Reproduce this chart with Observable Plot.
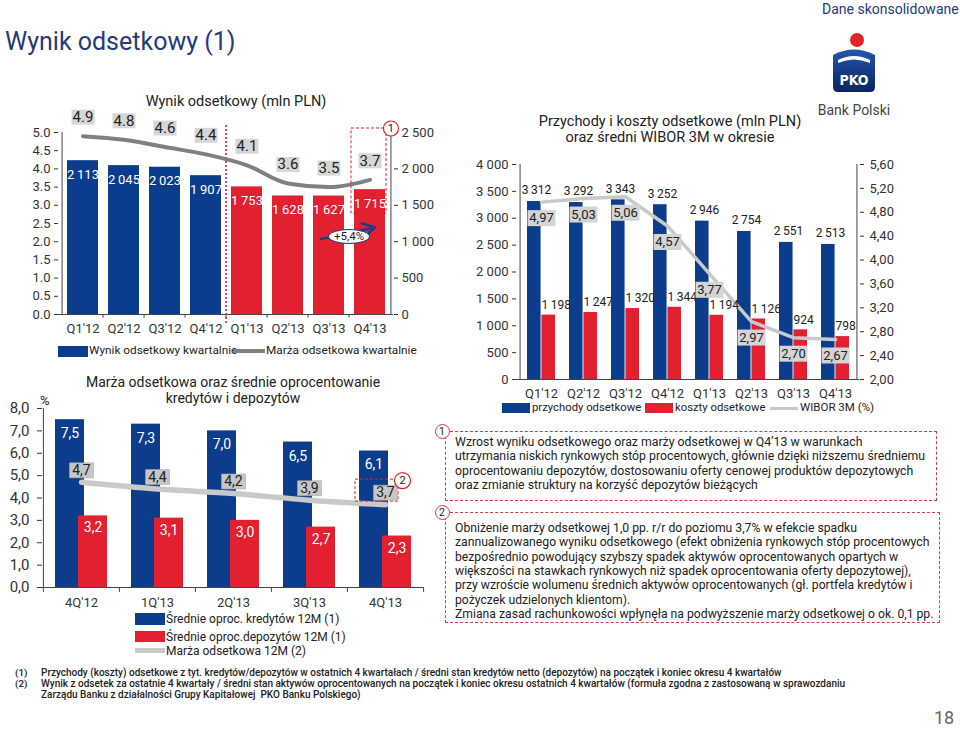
<!DOCTYPE html>
<html><head><meta charset="utf-8">
<script src="https://cdn.jsdelivr.net/npm/d3@7"></script>
<script src="https://cdn.jsdelivr.net/npm/@observablehq/plot@0.6"></script>
<style>
body{margin:0;background:#fff;}
#page{position:relative;width:960px;height:729px;overflow:hidden;font-family:Roboto,"Open Sans",sans-serif;color:#222;}
.abs{position:absolute;white-space:nowrap;line-height:1;}
.dash{position:absolute;border:1px dashed #d23a4a;box-sizing:border-box;}
.circ{position:absolute;width:15px;height:15px;border:1.2px solid #d23a4a;border-radius:50%;background:#fff;box-sizing:border-box;font-size:10.5px;line-height:13px;text-align:center;color:#222;}
</style></head>
<body><div id="page"></div>
<script>
// ---------- data ----------
const quarters = ["Q1'12","Q2'12","Q3'12","Q4'12","Q1'13","Q2'13","Q3'13","Q4'13"];
const wynik = [2113, 2045, 2023, 1907, 1753, 1628, 1627, 1715];
const marzaKw = [4.9, 4.8, 4.6, 4.4, 4.1, 3.6, 3.5, 3.7];
const przychody = [3312, 3292, 3343, 3252, 2946, 2754, 2551, 2513];
const koszty = [1198, 1247, 1320, 1344, 1194, 1126, 924, 798];
const wibor = [4.97, 5.03, 5.06, 4.57, 3.77, 2.97, 2.70, 2.67];
const periods = ["4Q'12","1Q'13","2Q'13","3Q'13","4Q'13"];
const kredyty = [7.5, 7.3, 7.0, 6.5, 6.1];
const depozyty = [3.2, 3.1, 3.0, 2.7, 2.3];
const marza12 = [4.7, 4.4, 4.2, 3.9, 3.7];
const ticks1L = [0, 0.5, 1, 1.5, 2, 2.5, 3, 3.5, 4, 4.5, 5];
const ticks1R = [0, 500, 1000, 1500, 2000, 2500];
const ticks2L = [0, 500, 1000, 1500, 2000, 2500, 3000, 3500, 4000];
const ticks2R = [2.0, 2.4, 2.8, 3.2, 3.6, 4.0, 4.4, 4.8, 5.2, 5.6];
const ticks3 = [0, 1, 2, 3, 4, 5, 6, 7, 8];
// annotations
const callout1 = [{q: "Q4'13", y1: 2.77, y2: 5.11}];
const circle1 = [{q: "Q4'13", y: 5.11, label: "1"}];
const arrow1 = [{x1: "Q3'13", x2: "Q4'13", y1: 2.12, y2: 2.36}];
const callout2 = [{q: "4Q'13", y1: 3.84, y2: 4.82}];
const circle2 = [{q: "4Q'13", y: 4.78, label: "2"}];

// ---------- style ----------
const FONT = "Roboto, 'Open Sans', sans-serif";
const BLUE = "#0c3c8c", RED = "#e3202f", GREY1 = "#808080", GREY2 = "#c9c9c9", AX = "#444";
const loc = d3.formatLocale({decimal: ",", thousands: "\u2009", grouping: [3], currency: ["", ""]});
const fInt = loc.format(",d"), f1c = loc.format(".1f"), f2c = loc.format(".2f"), f1d = d3.format(".1f");
const boxSym = (w, h) => ({draw(ctx) { ctx.rect(-w / 2, -h / 2, w, h); }});
const page = document.getElementById("page");

function txt(s, x, cy, size, opt = {}) {
  const el = document.createElement("div");
  el.className = "abs";
  el.innerHTML = s;
  el.style.fontSize = size + "px";
  el.style.top = (cy - size / 2) + "px";
  if (opt.center) { el.style.left = (x - 300) + "px"; el.style.width = "600px"; el.style.textAlign = "center"; }
  else el.style.left = x + "px";
  if (opt.color) el.style.color = opt.color;
  if (opt.weight) el.style.fontWeight = opt.weight;
  if (opt.family) el.style.fontFamily = opt.family;
  page.appendChild(el);
  return el;
}
function lines(arr, x, cy0, size, lh, opt = {}) {
  const el = txt(arr.join("<br>"), x, cy0, size, opt);
  el.style.lineHeight = lh + "px";
  el.style.top = (cy0 - lh / 2) + "px";
  return el;
}
function box(x, y, w, h, bg) {
  const el = document.createElement("div");
  el.className = "abs";
  Object.assign(el.style, {left: x + "px", top: y + "px", width: w + "px", height: h + "px", background: bg});
  page.appendChild(el);
}
function place(svg, x, y) {
  const wrap = document.createElement("div");
  wrap.className = "abs";
  wrap.style.left = x + "px"; wrap.style.top = y + "px";
  wrap.appendChild(svg);
  page.appendChild(wrap);
}
const baseStyle = {fontFamily: FONT, fontSize: "13px", color: "#333", overflow: "visible", background: "transparent"};

// ---------- chart 1 ----------
const c1 = {w: 440, h: 250, ml: 58, mr: 47, mt: 42, mb: 26};
const step1 = (c1.w - c1.ml - c1.mr) / quarters.length;
const per1 = 500;
const d1 = quarters.map((q, i) => ({q, v: wynik[i], m: marzaKw[i], y13: i >= 4}));
const plot1 = Plot.plot({
  width: c1.w, height: c1.h, marginLeft: c1.ml, marginRight: c1.mr, marginTop: c1.mt, marginBottom: c1.mb,
  style: baseStyle,
  x: {domain: quarters, padding: 0, label: null},
  y: {domain: [0, 5], label: null},
  marks: [
    Plot.barY(d1.filter(d => !d.y13), {x: "q", y: d => d.v / per1, fill: BLUE, insetLeft: 5, insetRight: 5}),
    Plot.barY(d1.filter(d => d.y13), {x: "q", y: d => d.v / per1, fill: RED, insetLeft: 5, insetRight: 5}),
    Plot.ruleY([0], {stroke: AX}),
    Plot.ruleX([quarters[0]], {dx: -step1 / 2, y1: 0, y2: 5, stroke: AX}),
    Plot.ruleX([quarters[7]], {dx: step1 / 2, y1: 0, y2: 5, stroke: AX}),
    Plot.ruleX(quarters.slice(1), {dx: -step1 / 2, y1: 0, y2: -0.1, stroke: AX}),
    Plot.axisY({ticks: ticks1L, tickFormat: f1d, tickSize: 4, tickPadding: 4, fontSize: 13, anchor: "left", label: null}),
    Plot.axisY({ticks: ticks1R.map(v => v / per1), tickFormat: v => fInt(Math.round(v * per1)).replace("\u2009", "\u00a0"), tickSize: 4, tickPadding: 4, fontSize: 13, anchor: "right", label: null}),
    Plot.axisX({tickSize: 0, tickPadding: 9, fontSize: 13, label: null}),
    Plot.ruleX([quarters[4]], {dx: -step1 / 2, y1: -0.25, y2: 5.25, stroke: RED, strokeWidth: 1.6, strokeDasharray: "2,2"}),
    Plot.line(d1, {x: "q", y: "m", stroke: GREY1, strokeWidth: 4, curve: "monotone-x"}),
    Plot.text(d1, {x: "q", y: d => d.v / per1, dy: 14, text: d => fInt(d.v), fill: "white", fontSize: 13}),
    Plot.barY(callout1, {x: "q", y1: "y1", y2: "y2", fill: "none", stroke: RED, strokeDasharray: "3,2", strokeWidth: 1, insetLeft: 2, insetRight: 4}),
    Plot.dot(d1, {x: "q", y: "m", dy: -19, symbol: boxSym(23, 15), fill: "#d6d6d6", stroke: "none"}),
    Plot.text(d1, {x: "q", y: "m", dy: -19, text: d => f1d(d.m), fill: "#222", fontSize: 15}),
    Plot.arrow(arrow1, {x1: "x1", x2: "x2", y1: "y1", y2: "y2", stroke: "#1d3c82", strokeWidth: 2.5, headLength: 9, insetStart: -8, insetEnd: -5}),
    Plot.dot(circle1, {x: "q", y: "y", dx: step1 / 2, r: 7.5, fill: "white", stroke: RED, strokeWidth: 1.2}),
    Plot.text(circle1, {x: "q", y: "y", dx: step1 / 2, text: "label", fontSize: 11, fill: "#222"})
  ]
});
place(plot1, 0, 90);

// ---------- chart 2 ----------
const c2 = {w: 490, h: 250, ml: 46, mr: 101, mt: 14, mb: 21};
const step2 = (c2.w - c2.ml - c2.mr) / quarters.length;
const wToL = w => (w - 2) / 3.6 * 4000;
const d2 = quarters.map((q, i) => ({q, p: przychody[i], k: koszty[i], w: wibor[i]}));
const plot2 = Plot.plot({
  width: c2.w, height: c2.h, marginLeft: c2.ml, marginRight: c2.mr, marginTop: c2.mt, marginBottom: c2.mb,
  style: baseStyle,
  x: {domain: quarters, padding: 0, label: null},
  y: {domain: [0, 4000], label: null},
  marks: [
    Plot.barY(d2, {x: "q", y: "p", fill: BLUE, insetLeft: 7, insetRight: step2 / 2}),
    Plot.barY(d2, {x: "q", y: "k", fill: RED, insetLeft: step2 / 2, insetRight: 7}),
    Plot.ruleY([0], {stroke: AX}),
    Plot.ruleX([quarters[0]], {dx: -step2 / 2, y1: 0, y2: 4000, stroke: AX}),
    Plot.ruleX([quarters[7]], {dx: step2 / 2, y1: 0, y2: 4000, stroke: AX}),
    Plot.axisY({ticks: ticks2L, tickFormat: v => fInt(v).replace("\u2009", "\u00a0"), tickSize: 4, tickPadding: 4, fontSize: 13, anchor: "left", label: null}),
    Plot.axisY({ticks: ticks2R.map(wToL), tickFormat: v => f2c(v / 4000 * 3.6 + 2), tickSize: 4, tickPadding: 6, fontSize: 13, anchor: "right", label: null}),
    Plot.axisX({tickSize: 0, tickPadding: 9, fontSize: 13, label: null}),
    Plot.line(d2, {x: "q", y: d => wToL(d.w), stroke: GREY2, strokeWidth: 3.5}),
    Plot.text(d2, {x: "q", y: "p", dx: -5, dy: -11, text: d => fInt(d.p), fill: "#222", fontSize: 12}),
    Plot.text(d2, {x: "q", y: "k", dx: 0, dy: -10, textAnchor: "start", text: d => fInt(d.k), fill: "#222", fontSize: 12}),
    Plot.dot(d2, {x: "q", y: d => wToL(d.w), dy: 16, symbol: boxSym(28, 16), fill: "#d4d4d4", stroke: "none"}),
    Plot.text(d2, {x: "q", y: d => wToL(d.w), dy: 16, text: d => f2c(d.w), fill: "#222", fontSize: 13})
  ]
});
place(plot2, 470, 150);

// ---------- chart 3 ----------
const c3 = {w: 430, h: 220, ml: 42, mr: 7, mt: 8, mb: 33};
const step3 = (c3.w - c3.ml - c3.mr) / periods.length;
const d3d = periods.map((q, i) => ({q, k: kredyty[i], d: depozyty[i], m: marza12[i]}));
const plot3 = Plot.plot({
  width: c3.w, height: c3.h, marginLeft: c3.ml, marginRight: c3.mr, marginTop: c3.mt, marginBottom: c3.mb,
  style: baseStyle,
  x: {domain: periods, padding: 0, label: null},
  y: {domain: [0, 8], label: null},
  marks: [
    Plot.barY(d3d, {x: "q", y: "k", fill: BLUE, insetLeft: 12, insetRight: 35}),
    Plot.barY(d3d, {x: "q", y: "d", fill: RED, insetLeft: 35, insetRight: 12}),
    Plot.ruleY([0], {stroke: AX}),
    Plot.ruleX([periods[0]], {dx: -step3 / 2, y1: 0, y2: 8, stroke: AX}),
    Plot.ruleX(periods, {dx: -step3 / 2, y1: 0, y2: -0.22, stroke: AX}),
    Plot.ruleX([periods[4]], {dx: step3 / 2, y1: 0, y2: -0.22, stroke: AX}),
    Plot.axisY({ticks: ticks3, tickFormat: f1c, tickSize: 5, tickPadding: 8, fontSize: 15, anchor: "left", label: null}),
    Plot.axisX({tickSize: 0, tickPadding: 10, fontSize: 13, label: null}),
    Plot.text(d3d, {x: "q", y: "k", dx: -11.6, dy: 14, text: d => f1c(d.k), fill: "white", fontSize: 14}),
    Plot.text(d3d, {x: "q", y: "d", dx: 11.6, dy: 12, text: d => f1c(d.d), fill: "white", fontSize: 14}),
    Plot.line(d3d, {x: "q", y: "m", stroke: GREY2, strokeWidth: 5.5, curve: "monotone-x"}),
    Plot.barY(callout2, {x: "q", y1: "y1", y2: "y2", fill: "none", stroke: RED, strokeDasharray: "3,2", strokeWidth: 1, insetLeft: 8, insetRight: 25}),
    Plot.dot(d3d, {x: "q", y: "m", dy: -12, symbol: boxSym(24, 15), fill: "#c6c6c6", stroke: "#a8a8a8", strokeWidth: 0.6}),
    Plot.text(d3d, {x: "q", y: "m", dy: -12, text: d => f1c(d.m), fill: "#222", fontSize: 14}),
    Plot.dot(circle2, {x: "q", y: "y", dx: 17, r: 8, fill: "white", stroke: RED, strokeWidth: 1.2}),
    Plot.text(circle2, {x: "q", y: "y", dx: 17, text: "label", fontSize: 11, fill: "#222"})
  ]
});
place(plot3, 0, 400);

// ---------- page texts ----------
txt("Wynik odsetkowy (1)", 5, 41, 25, {color: "#243a7c"});
txt("Dane skonsolidowane", 822, 9, 14, {color: "#243a7c"});
txt("Bank Polski", 854, 110, 14, {center: true, color: "#444"});
txt("18", 934, 718, 18, {color: "#666"});

// logo
const logo = document.createElementNS("http://www.w3.org/2000/svg", "svg");
logo.setAttribute("width", 60); logo.setAttribute("height", 66);
logo.setAttribute("style", "position:absolute;left:826px;top:30px");
logo.innerHTML = `<defs><linearGradient id="lg" x1="0" y1="0" x2="0" y2="1"><stop offset="0" stop-color="#2257b0"/><stop offset="1" stop-color="#0a235e"/></linearGradient></defs>
<circle cx="31" cy="10" r="7" fill="#e3242b"/>
<path d="M7 25 Q28 14 49 25 L49 57 Q49 62 44 62 L12 62 Q7 62 7 57 Z" fill="url(#lg)"/>
<path d="M12 30 Q28 22 44 30 L44 33 Q28 26 12 33 Z" fill="#fff"/>
<text x="28" y="55" text-anchor="middle" font-family="DejaVu Sans Condensed, sans-serif" font-weight="bold" font-size="14" fill="#fff">PKO</text>`;
page.appendChild(logo);

// chart titles
txt("Wynik odsetkowy (mln PLN)", 236, 102, 14.5, {center: true});
lines(["Przychody i koszty odsetkowe (mln PLN)", "oraz średni WIBOR 3M w okresie"], 670, 122, 14.5, 16, {center: true});
lines(["Marża odsetkowa oraz średnie oprocentowanie", "kredytów i depozytów"], 233, 382, 14, 16, {center: true});
txt("%", 40, 400, 13);

// +5,4% ellipse
const ell = txt("+5,4%", 328, 236, 11.5, {});
Object.assign(ell.style, {top: "229px", width: "40px", height: "13px", lineHeight: "13px", textAlign: "center", border: "1.5px solid #1d3c82", borderRadius: "50%", background: "#fff"});

// legends
box(58, 346, 30, 11, BLUE); txt("Wynik odsetkowy kwartalnie", 89, 351, 11.8);
box(233, 349, 32, 4, GREY1); txt("Marża odsetkowa kwartalnie", 266, 351, 11.8);
box(502, 403, 28, 10, BLUE); txt("przychody odsetkowe", 532, 408, 11.3);
box(645, 403, 28, 10, RED); txt("koszty odsetkowe", 675, 408, 11.3);
box(770, 407, 28, 3, GREY2); txt("WIBOR 3M (%)", 800, 408, 11.5);
box(135, 613, 30, 12, BLUE); txt("Średnie oproc. kredytów 12M (1)", 166, 619, 12);
box(135, 631, 30, 11, RED); txt("Średnie oproc.depozytów 12M (1)", 166, 637, 12);
box(135, 648, 30, 5, GREY2); txt("Marża odsetkowa 12M (2)", 166, 651, 12);

// comment boxes
function dash(x, y, w, h) { const el = document.createElement("div"); el.className = "dash"; Object.assign(el.style, {left: x + "px", top: y + "px", width: w + "px", height: h + "px"}); page.appendChild(el); }
function circ(label, cx, cy) { const el = document.createElement("div"); el.className = "circ"; el.textContent = label; el.style.left = (cx - 7.5) + "px"; el.style.top = (cy - 7.5) + "px"; page.appendChild(el); }
dash(445, 431, 492, 70); circ("1", 442, 431);
dash(445, 512, 495, 111); circ("2", 442, 512);
lines(["Wzrost wyniku odsetkowego oraz marży odsetkowej w Q4’13 w warunkach",
  "utrzymania niskich rynkowych stóp procentowych, głównie dzięki niższemu średniemu",
  "oprocentowaniu depozytów, dostosowaniu oferty cenowej produktów depozytowych",
  "oraz zmianie struktury na korzyść depozytów bieżących"], 455, 442, 12.3, 14.6);
lines(["Obniżenie marży odsetkowej 1,0 pp. r/r do poziomu 3,7% w efekcie spadku",
  "zannualizowanego wyniku odsetkowego (efekt obniżenia rynkowych stóp procentowych",
  "bezpośrednio powodujący szybszy spadek aktywów oprocentowanych opartych w",
  "większości na stawkach rynkowych niż spadek oprocentowania oferty depozytowej),",
  "przy wzroście wolumenu średnich aktywów oprocentowanych (gł. portfela kredytów i",
  "pożyczek udzielonych klientom).",
  "Zmiana zasad rachunkowości wpłynęła na podwyższenie marży odsetkowej o ok. 0,1 pp."], 455, 528, 12.2, 14.4);

// footnotes
const fn = {weight: 500};
lines(["(1)", "(2)"], 15, 672, 9.8, 11, fn);
lines(["Przychody (koszty) odsetkowe z tyt. kredytów/depozytów w ostatnich 4 kwartałach / średni stan kredytów netto (depozytów) na początek i koniec okresu 4 kwartałów",
  "Wynik z odsetek za ostatnie 4 kwartały / średni stan aktywów oprocentowanych na początek i koniec okresu ostatnich 4 kwartałów (formuła zgodna z zastosowaną w sprawozdaniu",
  "Zarządu Banku z działalności Grupy Kapitałowej &nbsp;PKO Banku Polskiego)"], 41, 672, 10, 11, fn);
</script>
</body></html>
